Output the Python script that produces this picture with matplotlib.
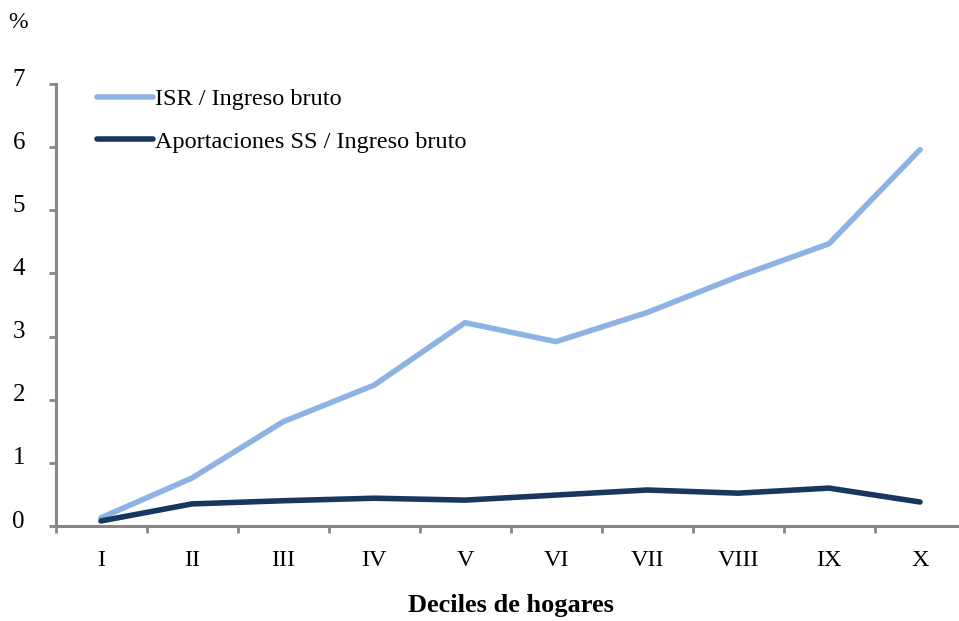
import numpy as np
from matplotlib import pyplot as plt
from matplotlib import transforms

deciles = ["I", "II", "III", "IV", "V", "VI", "VII", "VIII", "IX", "X"]
isr = [0.13, 0.76, 1.65, 2.23, 3.22, 2.92, 3.38, 3.95, 4.47, 5.96]
ss = [0.08, 0.35, 0.40, 0.44, 0.41, 0.49, 0.57, 0.52, 0.60, 0.38]

plt.rcParams['font.family'] = ['Liberation Serif', 'DejaVu Serif']
gray = "#878787"

fig = plt.figure(figsize=(9.59, 6.21), dpi=100)
ax = fig.add_axes([55.5/959, 95/621, 910/959, 442/621])

x = np.arange(len(deciles))
ax.plot(x, isr, color="#8DB3E2", lw=4, solid_capstyle="round",
        solid_joinstyle="round", label="ISR / Ingreso bruto")
ax.plot(x, ss, color="#17375E", lw=4, solid_capstyle="round",
        solid_joinstyle="round", label="Aportaciones SS / Ingreso bruto")

ax.set_xlim(-0.5, 9.5)
ax.set_ylim(0, 7)
ax.set_yticks(range(8))
ax.set_xticks(x)
ax.set_xticklabels(deciles)
ax.set_xticks(np.arange(-0.5, 10, 1), minor=True)
ax.tick_params(axis="x", which="major", length=0, pad=17, labelsize=17.5)
ax.tick_params(axis="x", which="minor", length=5, width=2, color=gray, direction="out")
ax.tick_params(axis="y", length=5, width=2, color=gray, pad=17, labelsize=18)

# y labels sit slightly above their ticks in the original
off = transforms.ScaledTranslation(0, 7/100, fig.dpi_scale_trans)
for lab in ax.get_yticklabels():
    lab.set_transform(lab.get_transform() + off)

for s in ["top", "right"]:
    ax.spines[s].set_visible(False)
for s in ["left", "bottom"]:
    ax.spines[s].set_color(gray)
    ax.spines[s].set_linewidth(2.2)

ax.set_xlabel("Deciles de hogares", fontsize=19, fontweight="bold", labelpad=17)
fig.text(18/959, 1 - 22/621, "%", fontsize=17, va="center", ha="center")

leg = ax.legend(loc="upper left", bbox_to_anchor=(97/959, 1 - 88/621),
                bbox_transform=fig.transFigure, frameon=False, fontsize=17.5,
                handlelength=2.3, handletextpad=0.1, labelspacing=0.85,
                borderaxespad=0, borderpad=0)

fig.savefig("out.png", dpi=100)
